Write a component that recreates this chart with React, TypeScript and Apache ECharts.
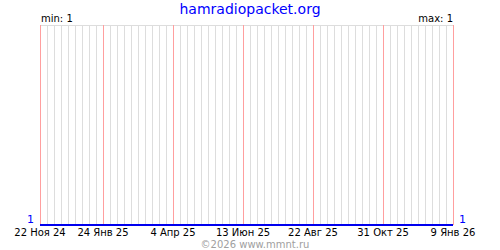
import React, { useEffect, useRef } from "react";
import * as echarts from "echarts";

const startDate = "2024-11-22";
const endDate = "2026-01-09";
const pointDates = ["2024-11-22", "2026-01-09"];
const pointValues = [1, 1];
const tickLabels = ["22 Ноя 24", "24 Янв 25", "4 Апр 25", "13 Июн 25", "22 Авг 25", "31 Окт 25", "9 Янв 26"];
const tickDates = ["2024-11-22", "2025-01-24", "2025-04-04", "2025-06-13", "2025-08-22", "2025-10-31", "2026-01-09"];
const minValue = 1;
const maxValue = 1;

const DAY = 86400000;
const dayIndex = (d: string) => Math.round((Date.parse(d + "T00:00:00Z") - Date.parse(startDate + "T00:00:00Z")) / DAY);

export default function App() {
  const ref = useRef<HTMLDivElement>(null);
  useEffect(() => {
    const chart = echarts.init(ref.current!, undefined, { renderer: "svg" });
    const total = dayIndex(endDate);
    const tickIdx = tickDates.map(dayIndex);
    const step = 7;
    const weeks: number[] = [];
    for (let d = 0; d <= total; d += step) weeks.push(d);
    const font = "DejaVu Sans";
    chart.setOption({
      animation: false,
      backgroundColor: "#ffffff",
      grid: { left: 40, right: 47, top: 25, bottom: 25, containLabel: false },
      xAxis: {
        type: "value",
        min: 0,
        max: total,
        interval: step,
        axisLine: { show: false },
        axisTick: { show: false },
        splitLine: { show: false },
        axisLabel: {
          show: true,
          margin: 2,
          fontFamily: font,
          fontSize: 10,
          color: "#000000",
          showMinLabel: true,
          showMaxLabel: true,
          hideOverlap: false,
          formatter: (v: number) => {
            const i = tickIdx.indexOf(Math.round(v));
            return i >= 0 ? tickLabels[i] : "";
          },
        },
      },
      yAxis: [
        {
          type: "value",
          min: 1,
          max: 2,
          interval: 1,
          position: "left",
          axisLine: { show: false },
          axisTick: { show: false },
          splitLine: { show: true, lineStyle: { color: "#dddddd" } },
          axisLabel: {
            margin: 6,
            fontFamily: font,
            fontSize: 11,
            color: "#0000ff",
            verticalAlign: "bottom",
            formatter: (v: number) => (v === 1 ? String(pointValues[0]) : ""),
          },
        },
        {
          type: "value",
          min: 1,
          max: 2,
          interval: 1,
          position: "right",
          axisLine: { show: false },
          axisTick: { show: false },
          splitLine: { show: false },
          axisLabel: {
            margin: 6,
            fontFamily: font,
            fontSize: 11,
            color: "#0000ff",
            verticalAlign: "bottom",
            formatter: (v: number) => (v === 1 ? String(pointValues[pointValues.length - 1]) : ""),
          },
        },
      ],
      series: [
        {
          type: "custom",
          silent: true,
          z: 3,
          clip: false,
          data: [[0, 1]],
          renderItem: (params: any, api: any) => {
            const vline = (d: number, color: string) => {
              const top = api.coord([d, 2]);
              const bottom = api.coord([d, 1]);
              const px = Math.round(top[0]);
              return {
                type: "rect",
                shape: { x: px, y: top[1], width: 1, height: bottom[1] - top[1] },
                style: { fill: color },
              };
            };
            const children: any[] = [];
            weeks.forEach((d) => {
              if (!tickIdx.includes(d)) children.push(vline(d, "#dddddd"));
            });
            tickIdx.forEach((d) => children.push(vline(d, "#ff9f9f")));
            return { type: "group", children };
          },
        },
        {
          type: "line",
          data: pointDates.map((d, i) => [dayIndex(d), pointValues[i]]),
          showSymbol: false,
          lineStyle: { color: "#0000ee", width: 2 },
          z: 5,
        },
      ],
      graphic: [
        {
          type: "text",
          left: "center",
          top: 2,
          style: { text: "hamradiopacket.org", font: `14px ${font}`, fill: "#0000ff" },
          x: 6,
        },
        {
          type: "text",
          x: 41,
          y: 13,
          style: { text: "min: " + minValue, font: `10px ${font}`, fill: "#000000" },
        },
        {
          type: "text",
          x: 453,
          y: 13,
          style: { text: "max: " + maxValue, font: `10px ${font}`, fill: "#000000", textAlign: "right" },
        },
        {
          type: "text",
          x: 255,
          y: 239,
          style: { text: "©2026 www.mmnt.ru", font: `10px ${font}`, fill: "#a0a0a0", textAlign: "center" },
        },
      ],
    });
    return () => chart.dispose();
  }, []);
  return <div ref={ref} style={{ width: 500, height: 250, position: "absolute", left: 0, top: 0 }} />;
}
